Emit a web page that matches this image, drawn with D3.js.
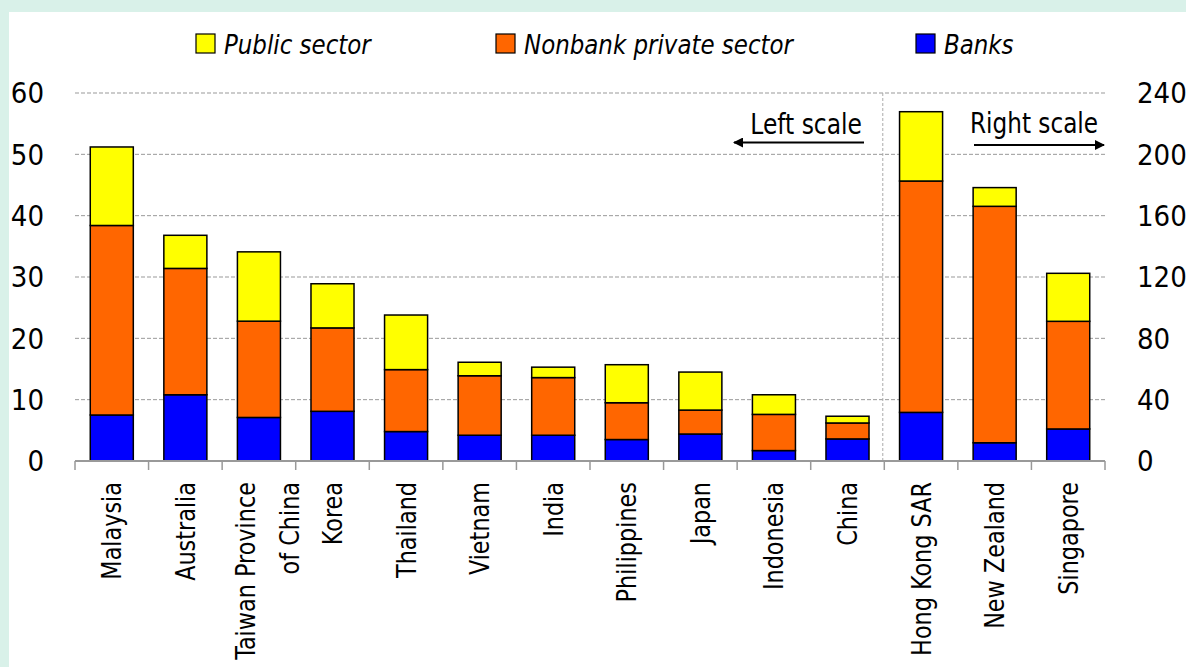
<!DOCTYPE html>
<html>
<head>
<meta charset="utf-8">
<script src="https://cdn.jsdelivr.net/npm/d3@7"></script>
<style>
  body { margin: 0; background: #d9f1e9; }
  #chart { position: absolute; left: 9px; top: 12px; width: 1177px; height: 655px; background: #fff; }
  svg { position: absolute; left: 0; top: 0; }
  text { font-family: "Liberation Sans Narrow", "DejaVu Sans Condensed", sans-serif; fill: #000; }
</style>
</head>
<body>
<div id="chart"></div>
<script>
const countries = ['Malaysia', 'Australia', 'Taiwan Province|of China', 'Korea', 'Thailand', 'Vietnam',
  'India', 'Philippines', 'Japan', 'Indonesia', 'China', 'Hong Kong SAR', 'New Zealand', 'Singapore'];
const banks = [7.5, 10.8, 7.1, 8.1, 4.8, 4.2, 4.2, 3.5, 4.4, 1.7, 3.6, 31.7, 11.9, 20.9];
const nonbank = [30.9, 20.6, 15.7, 13.6, 10.1, 9.7, 9.4, 6.0, 3.9, 5.9, 2.6, 150.9, 154.2, 70.2];
const publicSector = [12.8, 5.4, 11.3, 7.2, 8.9, 2.2, 1.7, 6.2, 6.2, 3.2, 1.1, 45.2, 12.2, 31.3];
const rightStart = 11; // first country read on the right scale
const leftTicks = [0, 10, 20, 30, 40, 50, 60];
const rightTicks = [0, 40, 80, 120, 160, 200, 240];
const seriesKeys = ['banks', 'nonbank', 'public'];
const seriesNames = { public: 'Public sector', nonbank: 'Nonbank private sector', banks: 'Banks' };
const colors = { banks: '#0000ff', nonbank: '#ff6600', public: '#ffff00' };

const width = 1186, height = 667;
const margin = { top: 93, right: 81, bottom: 206, left: 75 };

const data = countries.map((c, i) => ({
  country: c, banks: banks[i], nonbank: nonbank[i], public: publicSector[i], i
}));

const svg = d3.select('#chart').append('svg')
  .attr('width', width).attr('height', height)
  .style('left', '-9px').style('top', '-12px');

const x = d3.scaleBand()
  .domain(countries)
  .range([margin.left, width - margin.right])
  .paddingInner(0.415)
  .paddingOuter(0.2075);

const yLeft = d3.scaleLinear().domain([0, 60]).range([height - margin.bottom, margin.top]);
const yRight = d3.scaleLinear().domain([0, 240]).range([height - margin.bottom, margin.top]);
const yFor = i => (i >= rightStart ? yRight : yLeft);

// gridlines
svg.append('g')
  .selectAll('line')
  .data(leftTicks.slice(1))
  .enter()
  .append('line')
  .attr('x1', margin.left)
  .attr('x2', width - margin.right)
  .attr('y1', d => yLeft(d))
  .attr('y2', d => yLeft(d))
  .attr('stroke', '#999')
  .attr('stroke-width', 1)
  .attr('stroke-dasharray', '4,2');

// divider between left and right scale
const step = x.step();
const divX = margin.left + rightStart * step - 1.5;
svg.append('line')
  .attr('x1', divX).attr('x2', divX)
  .attr('y1', margin.top).attr('y2', yLeft(0))
  .attr('stroke', '#aaa')
  .attr('stroke-width', 1)
  .attr('stroke-dasharray', '3,2');

// bars
const stack = d3.stack().keys(seriesKeys);
const series = stack(data);

const serie = svg.selectAll('.serie')
  .data(series)
  .enter()
  .append('g')
  .attr('class', 'serie')
  .attr('fill', d => colors[d.key]);

serie.selectAll('rect')
  .data(d => d)
  .enter()
  .append('rect')
  .attr('x', d => x(d.data.country))
  .attr('width', x.bandwidth())
  .attr('y', d => yFor(d.data.i)(d[1]))
  .attr('height', d => yFor(d.data.i)(d[0]) - yFor(d.data.i)(d[1]))
  .attr('stroke', '#000')
  .attr('stroke-width', 1.5);

// x axis
const axisY = yLeft(0);
svg.append('line')
  .attr('x1', margin.left).attr('x2', width - margin.right)
  .attr('y1', axisY).attr('y2', axisY)
  .attr('stroke', '#999').attr('stroke-width', 2);

svg.append('g')
  .selectAll('line')
  .data(d3.range(countries.length + 1))
  .enter()
  .append('line')
  .attr('x1', i => margin.left + i * step)
  .attr('x2', i => margin.left + i * step)
  .attr('y1', axisY)
  .attr('y2', axisY + 9)
  .attr('stroke', '#999')
  .attr('stroke-width', 1.5);

// category labels (narrowed a little to mimic the condensed face)
const labels = svg.append('g')
  .selectAll('text')
  .data(countries)
  .enter()
  .append('text')
  .attr('transform', d => `translate(${x(d) + x.bandwidth() / 2},${axisY + 21}) rotate(-90) scale(0.92,1)`)
  .attr('text-anchor', 'end')
  .style('font-size', '27px');

labels.each(function(d) {
  const parts = d.split('|');
  const t = d3.select(this);
  if (parts.length === 1) {
    t.append('tspan').attr('x', 0).attr('dy', '0.35em').text(parts[0]);
  } else {
    t.append('tspan').attr('x', 0).attr('dy', '-0.14em').text(parts[0]);
    t.append('tspan').attr('x', 0).attr('dy', '1.63em').text(parts[1]);
  }
});

// left axis labels
svg.append('g')
  .selectAll('text')
  .data(leftTicks)
  .enter()
  .append('text')
  .attr('x', 44)
  .attr('y', d => yLeft(d))
  .attr('dy', '0.36em')
  .attr('text-anchor', 'end')
  .style('font-size', '29px')
  .text(d => d);

// right axis labels
svg.append('g')
  .selectAll('text')
  .data(rightTicks)
  .enter()
  .append('text')
  .attr('x', 1137)
  .attr('y', d => yRight(d))
  .attr('dy', '0.36em')
  .attr('text-anchor', 'start')
  .style('font-size', '29px')
  .text(d => d);

// legend
const legendItems = [
  { key: 'public', x: 196 },
  { key: 'nonbank', x: 496 },
  { key: 'banks', x: 916 }
];
const legend = svg.append('g')
  .selectAll('g')
  .data(legendItems)
  .enter()
  .append('g')
  .attr('transform', d => `translate(${d.x},34)`);

legend.append('rect')
  .attr('width', 19).attr('height', 19)
  .attr('fill', d => colors[d.key])
  .attr('stroke', '#000').attr('stroke-width', 1.2);

legend.append('text')
  .attr('transform', 'translate(28,10) scale(0.945,1)')
  .attr('dy', '0.36em')
  .style('font-size', '27px')
  .style('font-style', 'italic')
  .text(d => seriesNames[d.key]);

// scale annotations
svg.append('defs').append('marker')
  .attr('id', 'arrow')
  .attr('viewBox', '0 0 10 10')
  .attr('refX', 9).attr('refY', 5)
  .attr('markerWidth', 5.5).attr('markerHeight', 5)
  .attr('orient', 'auto')
  .append('path')
  .attr('d', 'M0,0L10,5L0,10Z')
  .attr('fill', '#000');

svg.append('text')
  .attr('transform', 'translate(862,134) scale(0.93,1)')
  .attr('text-anchor', 'end')
  .style('font-size', '28px')
  .text('Left scale');
svg.append('line')
  .attr('x1', 864).attr('x2', 734)
  .attr('y1', 142.5).attr('y2', 142.5)
  .attr('stroke', '#000').attr('stroke-width', 2)
  .attr('marker-end', 'url(#arrow)');

svg.append('text')
  .attr('transform', 'translate(970,133) scale(0.92,1)')
  .attr('text-anchor', 'start')
  .style('font-size', '28px')
  .text('Right scale');
svg.append('line')
  .attr('x1', 974).attr('x2', 1104)
  .attr('y1', 145).attr('y2', 145)
  .attr('stroke', '#000').attr('stroke-width', 2)
  .attr('marker-end', 'url(#arrow)');
</script>
</body>
</html>
